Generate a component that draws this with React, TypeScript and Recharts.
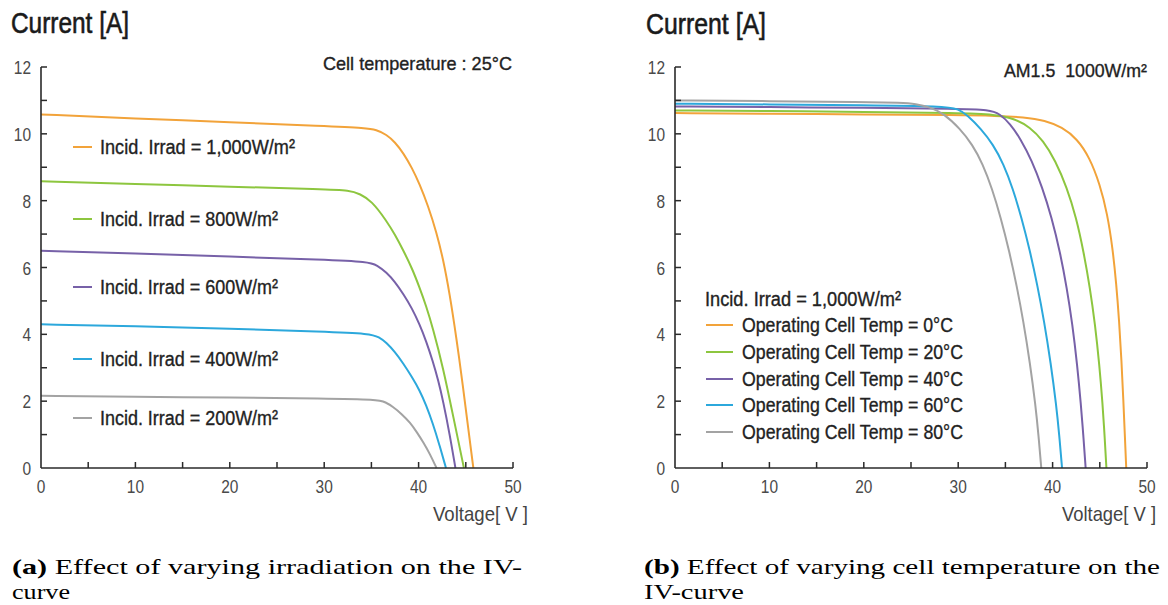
import React from 'react';
import { LineChart, Line, XAxis, YAxis } from 'recharts';

// ---------- DATA ----------
// Axis ticks
const voltageTicks = [0, 5, 10, 15, 20, 25, 30, 35, 40, 45, 50];
const currentTicks = [0, 1, 2, 3, 4, 5, 6, 7, 8, 9, 10, 11, 12];

// (a) varying irradiation, cell temperature 25°C  (v = voltage [V], i = current [A])
const irrad1000 = [
  { v: 0, i: 10.58 }, { v: 10, i: 10.46 }, { v: 20, i: 10.35 }, { v: 30, i: 10.23 }, { v: 34.5, i: 10.17 },
  { v: 35.5, i: 10.12 }, { v: 36.6, i: 9.98 }, { v: 37.5, i: 9.75 }, { v: 38.4, i: 9.42 }, { v: 39.3, i: 8.98 },
  { v: 40.1, i: 8.5 }, { v: 41, i: 7.85 }, { v: 41.9, i: 7.05 }, { v: 42.6, i: 6.25 }, { v: 43.3, i: 5.2 },
  { v: 44.0, i: 3.9 }, { v: 44.7, i: 2.45 }, { v: 45.25, i: 1.2 }, { v: 45.8, i: 0 },
];
const irrad800 = [
  { v: 0, i: 8.58 }, { v: 10, i: 8.5 }, { v: 20, i: 8.42 }, { v: 30, i: 8.34 }, { v: 32.7, i: 8.31 },
  { v: 33.8, i: 8.2 }, { v: 35, i: 8.0 }, { v: 36.6, i: 7.4 }, { v: 37.5, i: 6.98 }, { v: 38.4, i: 6.5 },
  { v: 39.3, i: 5.98 }, { v: 40.1, i: 5.4 }, { v: 40.8, i: 4.85 }, { v: 41.5, i: 4.2 }, { v: 42.6, i: 3.0 },
  { v: 43.7, i: 1.5 }, { v: 44.8, i: 0 },
];
const irrad600 = [
  { v: 0, i: 6.5 }, { v: 10, i: 6.42 }, { v: 20, i: 6.33 }, { v: 30, i: 6.23 }, { v: 34.7, i: 6.17 },
  { v: 35.6, i: 6.07 }, { v: 36.6, i: 5.85 }, { v: 37.5, i: 5.57 }, { v: 38.4, i: 5.2 }, { v: 39.3, i: 4.78 },
  { v: 40.1, i: 4.3 }, { v: 40.8, i: 3.8 }, { v: 41.5, i: 3.2 }, { v: 42.1, i: 2.6 }, { v: 42.6, i: 2.0 },
  { v: 43.3, i: 1.0 }, { v: 43.9, i: 0 },
];
const irrad400 = [
  { v: 0, i: 4.3 }, { v: 10, i: 4.24 }, { v: 20, i: 4.17 }, { v: 30, i: 4.08 }, { v: 34.9, i: 4.02 },
  { v: 35.8, i: 3.92 }, { v: 36.6, i: 3.75 }, { v: 37.5, i: 3.47 }, { v: 38.4, i: 3.12 }, { v: 39.3, i: 2.72 },
  { v: 40.1, i: 2.33 }, { v: 40.8, i: 1.88 }, { v: 41.5, i: 1.34 }, { v: 42.2, i: 0.7 }, { v: 42.9, i: 0 },
];
const irrad200 = [
  { v: 0, i: 2.16 }, { v: 10, i: 2.13 }, { v: 20, i: 2.11 }, { v: 30, i: 2.08 }, { v: 35.7, i: 2.05 },
  { v: 36.5, i: 1.97 }, { v: 37.3, i: 1.83 }, { v: 38.2, i: 1.62 }, { v: 39.1, i: 1.36 }, { v: 39.8, i: 1.08 },
  { v: 40.5, i: 0.77 }, { v: 41.2, i: 0.42 }, { v: 41.9, i: 0 },
];
const irradLabels = [
  'Incid. Irrad = 1,000W/m²',
  'Incid. Irrad = 800W/m²',
  'Incid. Irrad = 600W/m²',
  'Incid. Irrad = 400W/m²',
  'Incid. Irrad = 200W/m²',
];

// (b) varying cell temperature, 1000 W/m²
const temp0 = [
  { v: 0, i: 10.62 }, { v: 10, i: 10.6 }, { v: 20, i: 10.58 }, { v: 30, i: 10.56 }, { v: 34, i: 10.54 },
  { v: 37, i: 10.5 }, { v: 39.2, i: 10.4 }, { v: 41, i: 10.2 }, { v: 42.6, i: 9.85 }, { v: 43.9, i: 9.3 },
  { v: 45.0, i: 8.5 }, { v: 45.8, i: 7.6 }, { v: 46.35, i: 6.6 }, { v: 46.75, i: 5.5 }, { v: 47.05, i: 4.4 },
  { v: 47.3, i: 3.2 }, { v: 47.5, i: 2.0 }, { v: 47.65, i: 1.0 }, { v: 47.8, i: 0 },
];
const temp20 = [
  { v: 0, i: 10.7 }, { v: 10, i: 10.68 }, { v: 20, i: 10.66 }, { v: 30, i: 10.62 }, { v: 34, i: 10.58 },
  { v: 36, i: 10.45 }, { v: 37.6, i: 10.2 }, { v: 39.0, i: 9.8 }, { v: 40.3, i: 9.2 }, { v: 41.5, i: 8.4 },
  { v: 42.5, i: 7.5 }, { v: 43.3, i: 6.45 }, { v: 43.95, i: 5.4 }, { v: 44.5, i: 4.3 }, { v: 44.95, i: 3.1 },
  { v: 45.3, i: 1.9 }, { v: 45.5, i: 1.0 }, { v: 45.7, i: 0 },
];
const temp40 = [
  { v: 0, i: 10.82 }, { v: 10, i: 10.8 }, { v: 20, i: 10.78 }, { v: 30, i: 10.75 }, { v: 33.3, i: 10.72 },
  { v: 34.4, i: 10.6 }, { v: 35.5, i: 10.3 }, { v: 36.6, i: 9.85 }, { v: 37.8, i: 9.2 }, { v: 38.9, i: 8.4 },
  { v: 39.9, i: 7.5 }, { v: 40.8, i: 6.45 }, { v: 41.5, i: 5.4 }, { v: 42.1, i: 4.3 }, { v: 42.6, i: 3.1 },
  { v: 43.0, i: 1.9 }, { v: 43.25, i: 1.0 }, { v: 43.5, i: 0 },
];
const temp60 = [
  { v: 0, i: 10.9 }, { v: 10, i: 10.88 }, { v: 20, i: 10.86 }, { v: 28.5, i: 10.83 }, { v: 30, i: 10.75 },
  { v: 31.0, i: 10.55 }, { v: 32.4, i: 10.15 }, { v: 33.7, i: 9.68 }, { v: 34.8, i: 9.1 }, { v: 35.8, i: 8.35 },
  { v: 36.7, i: 7.5 }, { v: 37.6, i: 6.5 }, { v: 38.4, i: 5.45 }, { v: 39.1, i: 4.4 }, { v: 39.8, i: 3.15 },
  { v: 40.4, i: 1.85 }, { v: 40.7, i: 1.0 }, { v: 41.0, i: 0 },
];
const temp80 = [
  { v: 0, i: 11.0 }, { v: 10, i: 10.98 }, { v: 20, i: 10.95 }, { v: 24, i: 10.93 }, { v: 25.5, i: 10.9 },
  { v: 27, i: 10.8 }, { v: 28.5, i: 10.6 }, { v: 30.2, i: 10.15 }, { v: 31.5, i: 9.68 }, { v: 32.6, i: 9.1 },
  { v: 33.6, i: 8.35 }, { v: 34.5, i: 7.5 }, { v: 35.4, i: 6.5 }, { v: 36.2, i: 5.45 }, { v: 36.9, i: 4.4 },
  { v: 37.6, i: 3.15 }, { v: 38.2, i: 1.85 }, { v: 38.5, i: 1.0 }, { v: 38.8, i: 0 },
];
const tempLabels = [
  'Operating Cell Temp = 0°C',
  'Operating Cell Temp = 20°C',
  'Operating Cell Temp = 40°C',
  'Operating Cell Temp = 60°C',
  'Operating Cell Temp = 80°C',
];

// ---------- STYLE ----------
const COLORS = ['#F2A33A', '#8DC63F', '#7761A8', '#2CA8DC', '#A3A3A3'];
const SANS = '"Liberation Sans", Arial, sans-serif';
const SERIF = '"Liberation Serif", "DejaVu Serif", serif';
const AXIS = '#2a2a2a';
const TICKTXT = '#4a4a4a';

const CH_W = 580;
const CH_H = 500;
const MARGIN = { top: 67, right: 67, bottom: 0, left: 0 };

const XTick = (props: any) => {
  const { x, y, payload } = props;
  const v = payload.value;
  const s = String(v);
  return (
    <g>
      {v !== 0 && <line x1={x} x2={x} y1={y} y2={y - 6} stroke={AXIS} strokeWidth={1.5} />}
      {v % 10 === 0 && (
        <text x={x} y={y + 25} textAnchor="middle" fontSize={19} fill={TICKTXT} fontFamily={SANS}
          textLength={s.length * 8.6} lengthAdjust="spacingAndGlyphs">
          {s}
        </text>
      )}
    </g>
  );
};

const YTick = (props: any) => {
  const { x, y, payload } = props;
  const v = payload.value;
  const s = String(v);
  return (
    <g>
      {v !== 0 && <line x1={x} x2={x + 6} y1={y} y2={y} stroke={AXIS} strokeWidth={1.5} />}
      {v % 2 === 0 && (
        <text x={x - 10} y={y + 7} textAnchor="end" fontSize={19} fill={TICKTXT} fontFamily={SANS}
          textLength={s.length * 8.6} lengthAdjust="spacingAndGlyphs">
          {s}
        </text>
      )}
    </g>
  );
};

function IVChart({ series, left }: { series: { v: number; i: number }[][]; left: number }) {
  return (
    <div style={{ position: 'absolute', left, top: 0 }}>
      <LineChart width={CH_W} height={CH_H} margin={MARGIN}>
        <XAxis
          type="number"
          dataKey="v"
          domain={[0, 50]}
          ticks={voltageTicks}
          interval={0}
          height={32}
          tickSize={0}
          tickMargin={0}
          tickLine={false}
          axisLine={{ stroke: AXIS, strokeWidth: 1.6 }}
          tick={<XTick />}
          allowDuplicatedCategory={false}
        />
        <YAxis
          type="number"
          domain={[0, 12]}
          ticks={currentTicks}
          interval={0}
          width={41}
          tickSize={0}
          tickMargin={0}
          tickLine={false}
          axisLine={{ stroke: AXIS, strokeWidth: 1.6 }}
          tick={<YTick />}
        />
        {series.map((d, k) => (
          <Line
            key={k}
            data={d}
            dataKey="i"
            type="basis"
            stroke={COLORS[k]}
            strokeWidth={2}
            dot={false}
            activeDot={false}
            isAnimationActive={false}
          />
        ))}
      </LineChart>
    </div>
  );
}

export default function App() {
  const leftRows = [147, 219, 287, 359, 418];
  const leftWidths = [195, 178, 178, 178, 178];
  const rightRows = [325, 352, 379, 405, 432];
  const rightWidths = [211, 221, 221, 221, 221];
  const heavy = { stroke: '#222', strokeWidth: 0.35 };
  return (
    <div style={{ position: 'absolute', left: 0, top: 0, width: 1168, height: 605, background: '#fff', overflow: 'hidden' }}>
      <IVChart series={[irrad1000, irrad800, irrad600, irrad400, irrad200]} left={0} />
      <IVChart series={[temp0, temp20, temp40, temp60, temp80]} left={634} />
      <svg width={1168} height={605} style={{ position: 'absolute', left: 0, top: 0, pointerEvents: 'none' }}>
        {/* titles */}
        <text x={11} y={33} fontSize={29} fill="#1a1a1a" stroke="#1a1a1a" strokeWidth={0.6} fontFamily={SANS} textLength={118} lengthAdjust="spacingAndGlyphs">Current [A]</text>
        <text x={646} y={34} fontSize={29} fill="#1a1a1a" stroke="#1a1a1a" strokeWidth={0.6} fontFamily={SANS} textLength={120} lengthAdjust="spacingAndGlyphs">Current [A]</text>
        <text x={323} y={70} fontSize={19} fill="#222" {...heavy} fontFamily={SANS} textLength={189} lengthAdjust="spacingAndGlyphs">Cell temperature : 25°C</text>
        <text x={1004} y={77} fontSize={19} fill="#222" {...heavy} fontFamily={SANS} textLength={143} lengthAdjust="spacingAndGlyphs" xmlSpace="preserve">AM1.5  1000W/m²</text>
        {/* axis titles */}
        <text x={433} y={521} fontSize={21} fill="#444" fontFamily={SANS} textLength={95} lengthAdjust="spacingAndGlyphs">Voltage[ V ]</text>
        <text x={1062} y={521} fontSize={21} fill="#444" fontFamily={SANS} textLength={94} lengthAdjust="spacingAndGlyphs">Voltage[ V ]</text>
        {/* left legend */}
        {irradLabels.map((t, k) => (
          <g key={t}>
            <line x1={73} x2={92} y1={leftRows[k]} y2={leftRows[k]} stroke={COLORS[k]} strokeWidth={2} />
            <text x={100} y={leftRows[k] + 7} fontSize={20} fill="#222" {...heavy} fontFamily={SANS} textLength={leftWidths[k]} lengthAdjust="spacingAndGlyphs">{t}</text>
          </g>
        ))}
        {/* right legend */}
        <text x={705} y={306} fontSize={20} fill="#222" {...heavy} fontFamily={SANS} textLength={196} lengthAdjust="spacingAndGlyphs">Incid. Irrad = 1,000W/m²</text>
        {tempLabels.map((t, k) => (
          <g key={t}>
            <line x1={706} x2={733} y1={rightRows[k]} y2={rightRows[k]} stroke={COLORS[k]} strokeWidth={2} />
            <text x={742} y={rightRows[k] + 7} fontSize={20} fill="#222" {...heavy} fontFamily={SANS} textLength={rightWidths[k]} lengthAdjust="spacingAndGlyphs">{t}</text>
          </g>
        ))}
        {/* captions */}
        <text x={12} y={574} fontSize={22} fill="#000" fontFamily={SERIF} textLength={510} lengthAdjust="spacingAndGlyphs">
          <tspan fontWeight="bold">(a)</tspan> Effect of varying irradiation on the IV-
        </text>
        <text x={12} y={599} fontSize={22} fill="#000" fontFamily={SERIF} textLength={58} lengthAdjust="spacingAndGlyphs">curve</text>
        <text x={644} y={574} fontSize={22} fill="#000" fontFamily={SERIF} textLength={516} lengthAdjust="spacingAndGlyphs">
          <tspan fontWeight="bold">(b)</tspan> Effect of varying cell temperature on the
        </text>
        <text x={644} y={599} fontSize={22} fill="#000" fontFamily={SERIF} textLength={100} lengthAdjust="spacingAndGlyphs">IV-curve</text>
      </svg>
    </div>
  );
}
